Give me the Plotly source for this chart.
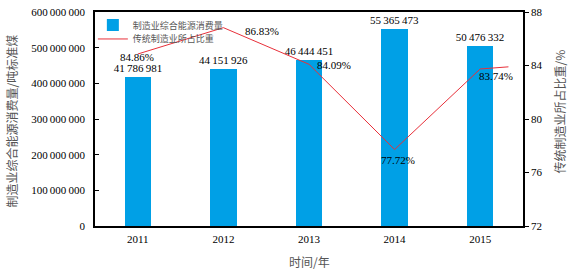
import plotly.graph_objects as go

years = [2011, 2012, 2013, 2014, 2015]
consumption_drawn = [417869810, 441519260, 464444510, 553654730, 504763320]
consumption_labels = ["41\u2009786\u2009981", "44\u2009151\u2009926", "46\u2009444\u2009451",
                      "55\u2009365\u2009473", "50\u2009476\u2009332"]

share_x = [2011, 2012, 2013, 2014, 2015, 2015.33]
share = [84.86, 86.83, 84.09, 77.72, 83.74, 83.9]
share_labels = ["84.86%", "86.83%", "84.09%", "77.72%", "83.74%"]
label_dx = [-1, 39, 25, 3, 16]
label_dy = [-3, -3, -1, -10, -7]

left_ticks = [0, 100000000, 200000000, 300000000, 400000000, 500000000, 600000000]
left_ticktext = ["0", "100\u2009000\u2009000", "200\u2009000\u2009000", "300\u2009000\u2009000",
                 "400\u2009000\u2009000", "500\u2009000\u2009000", "600\u2009000\u2009000"]
right_ticks = [72, 76, 80, 84, 88]

FONT = "Liberation Serif, Times New Roman, Noto Sans CJK SC, serif"
CJK = "Noto Sans CJK SC, Liberation Serif, serif"

fig = go.Figure()
fig.add_trace(go.Bar(
    x=years, y=consumption_drawn, width=0.31,
    name="制造业综合能源消费量", legend="legend",
    marker=dict(color="#00A0E6", line=dict(width=0)),
    text=consumption_labels, textposition="outside", constraintext="none",
    textfont=dict(family=FONT, size=11, color="black"),
    cliponaxis=False,
))
fig.add_trace(go.Scatter(
    x=share_x, y=share, yaxis="y2", mode="lines",
    name="传统制造业所占比重", legend="legend2",
    line=dict(color="#E8303A", width=1),
    cliponaxis=False,
))

annotations = [
    dict(text=t, x=x, y=y, xref="x", yref="y2", xshift=dx, yshift=dy,
         showarrow=False, xanchor="center", yanchor="middle",
         font=dict(family=FONT, size=11, color="black"))
    for t, x, y, dx, dy in zip(share_labels, share_x, share, label_dx, label_dy)
]
annotations += [
    dict(text="制造业综合能源消费量/吨标准煤", xref="paper", yref="paper",
         x=-0.195, y=0.491, xanchor="center", yanchor="middle", textangle=-90,
         showarrow=False, font=dict(family=CJK, size=12, color="#555")),
    dict(text="传统制造业所占比重/%", xref="paper", yref="paper",
         x=1.085, y=0.537, xanchor="center", yanchor="middle", textangle=-90,
         showarrow=False, font=dict(family=CJK, size=12, color="#555")),
    dict(text="时间/年", xref="paper", yref="paper",
         x=0.5, y=-0.168, xanchor="center", yanchor="middle",
         showarrow=False, font=dict(family=CJK, size=12, color="#555")),
]

leg_common = dict(xanchor="left", yanchor="middle", bgcolor="rgba(0,0,0,0)",
                  font=dict(family=CJK, size=9, color="#555"), itemwidth=30)

fig.update_layout(
    width=573, height=270,
    margin=dict(l=95, r=50, t=12, b=44, autoexpand=False),
    paper_bgcolor="white", plot_bgcolor="white",
    font=dict(family=FONT, size=11, color="black"),
    showlegend=True,
    legend=dict(x=-0.005, y=0.939, **leg_common),
    legend2=dict(x=-0.005, y=0.874, **leg_common),
    xaxis=dict(range=[2010.5, 2015.5], tickvals=years, ticktext=[str(y) for y in years],
               showline=True, linecolor="black", linewidth=1.5, mirror=True,
               ticks="", showgrid=False, zeroline=False, automargin=False,
               ticklabelstandoff=2,
               tickfont=dict(family=FONT, size=11)),
    yaxis=dict(range=[0, 600000000], tickvals=left_ticks, ticktext=left_ticktext,
               showline=True, linecolor="black", linewidth=1.5,
               ticks="inside", ticklen=4, tickcolor="black", ticklabelstandoff=6,
               showgrid=False, zeroline=False, automargin=False,
               tickfont=dict(family=FONT, size=11)),
    yaxis2=dict(range=[72, 88], tickvals=right_ticks, overlaying="y", side="right",
                showline=True, linecolor="black", linewidth=1.5,
                ticks="outside", ticklen=4, tickcolor="black",
                showgrid=False, zeroline=False, automargin=False,
                tickfont=dict(family=FONT, size=11)),
    bargap=0,
    annotations=annotations,
)

fig.write_html("out.html", config={"displayModeBar": False},
               post_script="document.body.style.margin='0';")
